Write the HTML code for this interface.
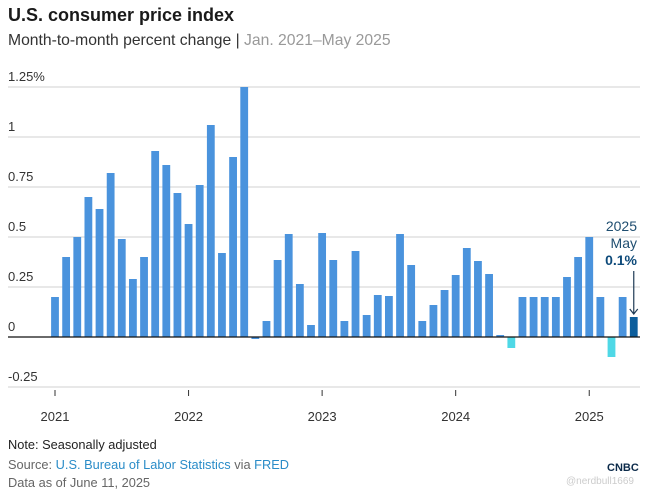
<!DOCTYPE html>
<html><head><meta charset="utf-8"><style>
body{margin:0;background:#fff;font-family:"Liberation Sans",sans-serif;}
#wrap{position:relative;width:654px;height:496px;overflow:hidden;background:#fff}
.t{position:absolute;white-space:nowrap}
</style></head><body>
<div id="wrap">
<div class="t" style="left:8px;top:5px;font-size:18px;font-weight:bold;color:#1a1a1a">U.S. consumer price index</div>
<div class="t" style="left:8px;top:32px;font-size:15.7px;color:#333">Month-to-month percent change | <span style="color:#999">Jan. 2021–May 2025</span></div>
<svg id="chart" width="654" height="496" style="position:absolute;left:0;top:0"></svg>
<div class="t" style="left:8px;top:437px;font-size:12.8px;color:#222">Note: Seasonally adjusted</div>
<div class="t" style="left:8px;top:457px;font-size:12.8px;color:#666">Source: <span style="color:#2a8cc8">U.S. Bureau of Labor Statistics</span> via <span style="color:#2a8cc8">FRED</span></div>
<div class="t" style="left:8px;top:475px;font-size:12.8px;color:#666">Data as of June 11, 2025</div>
<div class="t" style="left:607px;top:462px;font-size:11px;font-weight:bold;color:#0b2a4a">CNBC</div>
<div class="t" style="left:566px;top:476px;font-size:10px;color:#ccc">@nerdbull1669</div>
</div>
<script>
const values=[0.2,0.4,0.5,0.7,0.64,0.82,0.49,0.29,0.4,0.93,0.86,0.72,
0.565,0.76,1.06,0.42,0.9,1.25,-0.01,0.08,0.385,0.515,0.265,0.06,
0.52,0.385,0.08,0.43,0.11,0.21,0.205,0.515,0.36,0.08,0.16,0.235,
0.31,0.445,0.38,0.315,0.01,-0.055,0.2,0.2,0.2,0.2,0.3,0.4,
0.5,0.2,-0.1,0.2,0.1];
const yTicks=[1.25,1,0.75,0.5,0.25,0,-0.25];
const yTickLabels=["1.25%","1","0.75","0.5","0.25","0","-0.25"];
const years=["2021","2022","2023","2024","2025"];
const svg=document.getElementById('chart');
const NS='http://www.w3.org/2000/svg';
const y=v=>337-v*200;
const x=i=>55+i*11.13;
function mk(t,a){const e=document.createElementNS(NS,t);for(const k in a)e.setAttribute(k,a[k]);svg.appendChild(e);return e;}
yTicks.forEach((v,i)=>{
 if(v!==0){const g=mk('line',{x1:8,x2:640,y1:y(v),y2:y(v),stroke:'#d0d0d0','stroke-width':1});
 
 }
 const t=mk('text',{x:8,y:y(v)-6,'font-size':13,fill:'#333'});
 
 
 t.textContent=yTickLabels[i];
});
values.forEach((v,i)=>{
 const last=i===values.length-1;
 const col=last?'#0d5e9c':(v<-0.02?'#4fd8e6':'#4a93dd');
 const r=mk('rect',{x:x(i)-3.9,y:Math.min(y(v),y(0)),width:7.8,height:Math.max(Math.abs(y(v)-y(0)),0.6),fill:col});
 
 
});
const z=mk('line',{x1:8,x2:640,y1:y(0),y2:y(0),stroke:'#111','stroke-width':1.2});


years.forEach((yr,k)=>{
 const xx=x(k*12);
 const tk=mk('line',{x1:xx,x2:xx,y1:390,y2:396,stroke:'#333','stroke-width':1});
 
 
 const t=mk('text',{x:xx,y:421,'font-size':13,fill:'#333','text-anchor':'middle'});
 
 
 t.textContent=yr;
});
const li=values.length-1, lx=x(li);
[["2025",231,'normal','#1f4e70'],["May",248,'normal','#1f4e70'],["0.1%",265,'bold','#0d4a7a']].forEach(a=>{
 const t=mk('text',{x:637,y:a[1],'font-size':14,'font-weight':a[2],fill:a[3],'text-anchor':'end'});
 
 
 t.textContent=a[0];
});
const ar=mk('path',{d:`M${lx} 271 L${lx} ${y(values[li])-3} M${lx-4} ${y(values[li])-8} L${lx} ${y(values[li])-3} L${lx+4} ${y(values[li])-8}`,stroke:'#1f3b55',fill:'none','stroke-width':1.2});


</script>
</body></html>
